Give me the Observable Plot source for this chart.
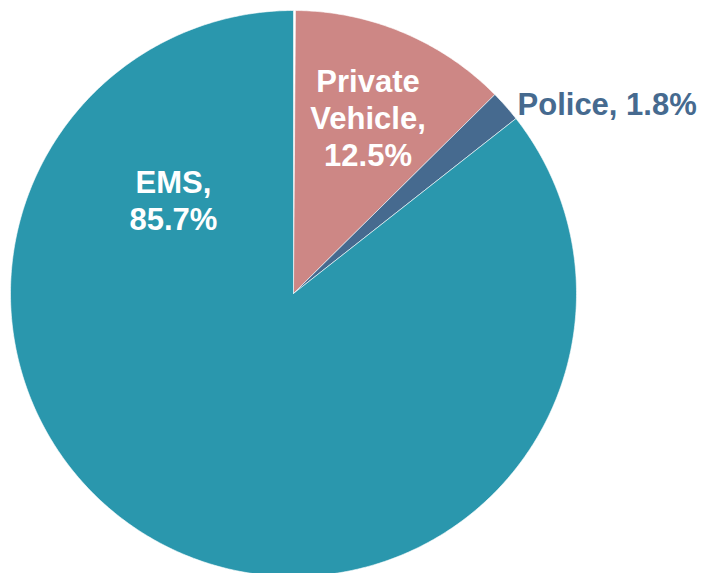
<!DOCTYPE html>
<html>
<head>
<meta charset="utf-8">
<script src="https://cdn.jsdelivr.net/npm/d3@7"></script>
<script src="https://cdn.jsdelivr.net/npm/@observablehq/plot@0.6"></script>
<style>
  html, body { margin: 0; padding: 0; background: #ffffff; }
  #chart svg { display: block; }
</style>
</head>
<body>
<div id="chart"></div>
<script>
// ---- Data ----
const categories = ["Private Vehicle", "Police", "EMS"];
const shares = [12.5, 1.8, 85.7];
const labelTexts = ["Private\nVehicle,\n12.5%", "Police, 1.8%", "EMS,\n85.7%"];

// ---- Styles / layout (kept apart from the data) ----
const sliceColors = ["#CD8785", "#466A8F", "#2A97AD"];
const labelColors = ["#ffffff", "#466A8F", "#ffffff"];
// label placement: angle (deg, clockwise from 12 o'clock) and radius (fraction of pie radius)
const labelPlacement = [
  {angle: 22.9, radius: 0.677, anchor: "middle"},
  {angle: 49.7, radius: 1.038, anchor: "start"},
  {angle: -51.9, radius: 0.539, anchor: "middle"}
];

const rows = categories.map((c, i) => ({category: c, share: shares[i], label: labelTexts[i]}));

const arcs = d3.pie().sort(null).value(d => d.share).startAngle(0.007)(rows);

// polygon outline for each slice, on the unit circle
const slicePoints = [];
arcs.forEach(a => {
  const n = Math.max(2, Math.ceil((a.endAngle - a.startAngle) / 0.01));
  slicePoints.push({category: a.data.category, x: 0, y: 0});
  for (let k = 0; k <= n; k++) {
    const t = a.startAngle + (a.endAngle - a.startAngle) * k / n;
    slicePoints.push({category: a.data.category, x: Math.sin(t), y: Math.cos(t)});
  }
  slicePoints.push({category: a.data.category, x: 0, y: 0});
});

const labels = rows.map((r, i) => {
  const p = labelPlacement[i];
  const t = p.angle * Math.PI / 180;
  return {category: r.category, text: r.label, x: p.radius * Math.sin(t), y: p.radius * Math.cos(t), anchor: p.anchor, color: labelColors[i]};
});

const font = "Arial, 'Liberation Sans', sans-serif";

const chart = Plot.plot({
  width: 703,
  height: 573,
  margin: 0,
  style: {background: "#ffffff", overflow: "visible"},
  x: {domain: [-1, 1], range: [10, 576], axis: null},
  y: {domain: [-1, 1], range: [576, 10], axis: null},
  color: {domain: categories, range: sliceColors},
  marks: [
    Plot.line(slicePoints, {x: "x", y: "y", z: "category", fill: "category", stroke: "#ffffff", strokeWidth: 0.6, curve: "linear"}),
    Plot.text(labels.filter(d => d.anchor === "middle"), {
      x: "x", y: "y", text: "text", fill: "color",
      textAnchor: "middle", lineAnchor: "middle", lineHeight: 1.2,
      fontSize: 31, fontWeight: "bold", fontFamily: font
    }),
    Plot.text(labels.filter(d => d.anchor === "start"), {
      x: "x", y: "y", text: "text", fill: "color",
      textAnchor: "start", lineAnchor: "middle", lineHeight: 1.2,
      fontSize: 31, fontWeight: "bold", fontFamily: font
    })
  ]
});

document.getElementById("chart").appendChild(chart);
</script>
</body>
</html>
